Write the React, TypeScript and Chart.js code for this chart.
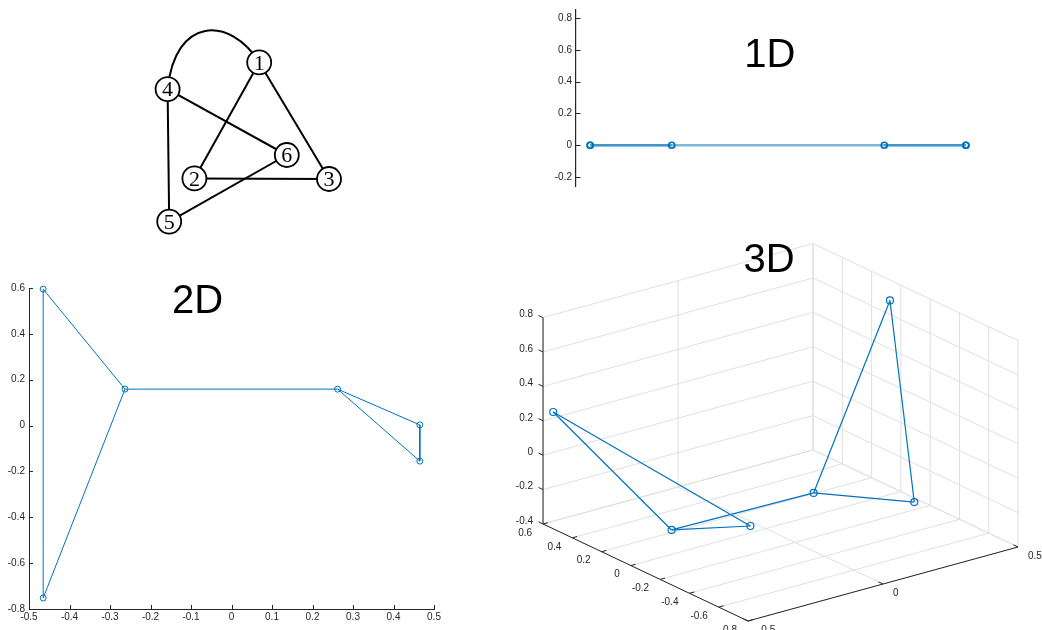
import React, { useEffect, useRef } from 'react';
import { Chart, registerables } from 'chart.js';

Chart.register(...registerables);

const MATLAB_BLUE = '#0072BD';
const AXIS_COLOR = '#262626';
const GRID_COLOR = '#dfdfdf';
const SANS = '"Liberation Sans", Arial, Helvetica, sans-serif';
const SERIF = '"Liberation Serif", "DejaVu Serif", serif';

// ---------------- Data ----------------
const nodeLabels = ['1', '2', '3', '4', '5', '6'];

// graph drawing layout (abstract layout units, y up)
const layoutX = [3.23, 1.61, 4.975, 0.94, 0.98, 3.92];
const layoutY = [4.69, 1.79, 1.775, 4.02, 0.71, 2.375];
const straightEdges = [[1, 2], [1, 3], [2, 3], [4, 5], [4, 6], [5, 6]];
const curvedEdge = [4, 1];
const curveControlX = [1.125, 2.5];
const curveControlY = [5.85, 5.85];
const allEdges = [...straightEdges, curvedEdge];

// 1D embedding
const embed1X = [0.263, 0.465, 0.465, -0.263, -0.465, -0.465];
const embed1Y = [0, 0, 0, 0, 0, 0];
const yTicks1D = [-0.2, 0, 0.2, 0.4, 0.6, 0.8];

// 2D embedding
const embed2X = [0.262, 0.465, 0.465, -0.263, -0.465, -0.465];
const embed2Y = [0.159, 0.003, -0.155, 0.159, -0.752, 0.595];
const xTicks2D = [-0.5, -0.4, -0.3, -0.2, -0.1, 0, 0.1, 0.2, 0.3, 0.4, 0.5];
const yTicks2D = [-0.8, -0.6, -0.4, -0.2, 0, 0.2, 0.4, 0.6];

// 3D embedding
const embed3X = [0.263, 0.465, 0.465, -0.263, -0.465, -0.465];
const embed3Y = [0.159, 0.01, -0.156, 0.159, -0.752, 0.595];
const embed3Z = [-0.37, 0.722, -0.383, -0.359, 0.118, 0.238];
const xTicks3D = [-0.5, 0, 0.5];
const yTicks3D = [-0.8, -0.6, -0.4, -0.2, 0, 0.2, 0.4, 0.6];
const zTicks3D = [-0.4, -0.2, 0, 0.2, 0.4, 0.6, 0.8];
const xRange3D = [-0.5, 0.5];
const yRange3D = [-0.8, 0.6];
const zRange3D = [-0.4, 0.8];

// ---------------- view (orthographic projection of the 3D box) ----------------
const VIEW_EX = [270, 74];
const VIEW_EY = [-146.4, 69.3];
const VIEW_EZ = 172;

function project(x: number, y: number, z: number) {
  const dx = x - xRange3D[0];
  const dy = y - yRange3D[0];
  const dz = z - zRange3D[0];
  return {
    x: dx * VIEW_EX[0] + dy * VIEW_EY[0],
    y: dx * VIEW_EX[1] + dy * VIEW_EY[1] + dz * VIEW_EZ,
  };
}

const fmt = (v: number) => String(Number(Number(v).toFixed(2)));

function nodePoints(xs: number[], ys: number[]) {
  return xs.map((x, i) => ({ x, y: ys[i] }));
}

function edgeDatasets(pts: { x: number; y: number }[], edges: number[][], color: string, width: number) {
  return edges.map(([a, b]) => ({
    showLine: true,
    data: [pts[a - 1], pts[b - 1]],
    borderColor: color,
    borderWidth: width,
    pointRadius: 0,
    pointHoverRadius: 0,
    order: 1,
    clip: false as any,
  }));
}

// ---------------- plugins ----------------
const inwardTicks = {
  id: 'inwardTicks',
  afterDraw(chart: any, _args: any, opts: any) {
    if (!opts || !opts.axes) return;
    const ctx = chart.ctx;
    ctx.save();
    ctx.strokeStyle = AXIS_COLOR;
    ctx.lineWidth = 1;
    for (const id of opts.axes) {
      const s = chart.scales[id];
      for (const t of s.ticks) {
        const p = Math.round(s.getPixelForValue(t.value)) + 0.5;
        ctx.beginPath();
        if (s.isHorizontal()) {
          ctx.moveTo(p, s.top);
          ctx.lineTo(p, s.top - opts.len);
        } else {
          ctx.moveTo(s.right, p);
          ctx.lineTo(s.right + opts.len, p);
        }
        ctx.stroke();
      }
    }
    ctx.restore();
  },
};

const panelTitle = {
  id: 'panelTitle',
  afterDraw(chart: any, _args: any, opts: any) {
    if (!opts || !opts.text) return;
    const ctx = chart.ctx;
    const px = chart.scales.x.getPixelForValue(opts.x);
    const py = chart.scales.y.getPixelForValue(opts.y);
    ctx.save();
    ctx.font = `${opts.size}px ${SANS}`;
    ctx.fillStyle = '#000';
    ctx.textAlign = 'center';
    ctx.textBaseline = 'alphabetic';
    ctx.fillText(opts.text, px, py + opts.size * 0.358);
    ctx.restore();
  },
};

const graphDecor = {
  id: 'graphDecor',
  beforeDatasetsDraw(chart: any) {
    const { ctx } = chart;
    const sx = chart.scales.x;
    const sy = chart.scales.y;
    const [a, b] = curvedEdge;
    ctx.save();
    ctx.strokeStyle = '#000';
    ctx.lineWidth = 2;
    ctx.beginPath();
    ctx.moveTo(sx.getPixelForValue(layoutX[a - 1]), sy.getPixelForValue(layoutY[a - 1]));
    ctx.bezierCurveTo(
      sx.getPixelForValue(curveControlX[0]), sy.getPixelForValue(curveControlY[0]),
      sx.getPixelForValue(curveControlX[1]), sy.getPixelForValue(curveControlY[1]),
      sx.getPixelForValue(layoutX[b - 1]), sy.getPixelForValue(layoutY[b - 1])
    );
    ctx.stroke();
    ctx.restore();
  },
  afterDatasetsDraw(chart: any) {
    const { ctx } = chart;
    const sx = chart.scales.x;
    const sy = chart.scales.y;
    const size = 22;
    ctx.save();
    ctx.font = `${size}px ${SERIF}`;
    ctx.fillStyle = '#000';
    ctx.textAlign = 'center';
    ctx.textBaseline = 'alphabetic';
    nodeLabels.forEach((lab, i) => {
      ctx.fillText(lab, sx.getPixelForValue(layoutX[i]), sy.getPixelForValue(layoutY[i]) + size * 0.33);
    });
    ctx.restore();
  },
};

const box3d = {
  id: 'box3d',
  beforeDatasetsDraw(chart: any) {
    const { ctx } = chart;
    const sx = chart.scales.x;
    const sy = chart.scales.y;
    const P = (x: number, y: number, z: number) => {
      const q = project(x, y, z);
      return [sx.getPixelForValue(q.x), sy.getPixelForValue(q.y)];
    };
    const line = (a: number[], b: number[]) => {
      ctx.beginPath();
      ctx.moveTo(a[0], a[1]);
      ctx.lineTo(b[0], b[1]);
      ctx.stroke();
    };
    const [x0, x1] = xRange3D;
    const [y0, y1] = yRange3D;
    const [z0, z1] = zRange3D;
    ctx.save();
    ctx.lineWidth = 1;
    ctx.strokeStyle = GRID_COLOR;
    // floor
    for (const yv of yTicks3D) line(P(x0, yv, z0), P(x1, yv, z0));
    for (const xv of xTicks3D) line(P(xv, y0, z0), P(xv, y1, z0));
    // back wall y = y1
    for (const xv of xTicks3D) line(P(xv, y1, z0), P(xv, y1, z1));
    for (const zv of zTicks3D) line(P(x0, y1, zv), P(x1, y1, zv));
    // back wall x = x1
    for (const yv of yTicks3D) line(P(x1, yv, z0), P(x1, yv, z1));
    for (const zv of zTicks3D) line(P(x1, y0, zv), P(x1, y1, zv));

    // axes
    ctx.strokeStyle = AXIS_COLOR;
    line(P(x0, y1, z0), P(x0, y1, z1));
    line(P(x0, y0, z0), P(x0, y1, z0));
    line(P(x0, y0, z0), P(x1, y0, z0));

    const unit = (a: number[], b: number[]) => {
      const dx = b[0] - a[0];
      const dy = b[1] - a[1];
      const L = Math.hypot(dx, dy);
      return [dx / L, dy / L];
    };
    const dirX = unit(P(x0, y0, z0), P(x1, y0, z0));
    const dirY = unit(P(x0, y0, z0), P(x0, y1, z0));
    const TL = 5;
    ctx.fillStyle = AXIS_COLOR;
    ctx.font = `10px ${SANS}`;
    ctx.textBaseline = 'middle';

    // z axis
    ctx.textAlign = 'right';
    for (const zv of zTicks3D) {
      const p = P(x0, y1, zv);
      line(p, [p[0] + dirY[0] * TL, p[1] + dirY[1] * TL]);
      ctx.fillText(fmt(zv), p[0] - 10, p[1] - 3);
    }
    // y axis (front-left edge)
    for (const yv of yTicks3D) {
      const p = P(x0, yv, z0);
      line(p, [p[0] + dirX[0] * TL, p[1] + dirX[1] * TL]);
      ctx.fillText(fmt(yv), p[0] - 11, p[1] + 9);
    }
    // x axis (front-right edge)
    ctx.textAlign = 'left';
    for (const xv of xTicks3D) {
      const p = P(xv, y0, z0);
      line(p, [p[0] + dirY[0] * TL, p[1] + dirY[1] * TL]);
      ctx.fillText(fmt(xv), p[0] + 10, p[1] + 9);
    }
    ctx.restore();
  },
};

const basePlugins = { legend: { display: false }, tooltip: { enabled: false } };

function tickOpts() {
  return {
    font: { family: SANS, size: 10 },
    color: AXIS_COLOR,
    autoSkip: false,
    maxRotation: 0,
    callback: (v: any) => fmt(Number(v)),
  };
}

// ---------------- configs ----------------
function graphConfig(): any {
  const pts = nodePoints(layoutX, layoutY);
  return {
    type: 'scatter',
    data: {
      datasets: [
        {
          data: pts,
          pointRadius: 12,
          pointHoverRadius: 12,
          pointBorderWidth: 1.8,
          pointBorderColor: '#000',
          pointBackgroundColor: '#fff',
          order: 0,
          clip: false,
        },
        ...edgeDatasets(pts, straightEdges, '#000', 2),
      ],
    },
    options: {
      responsive: false,
      animation: false,
      events: [],
      layout: { padding: 0, autoPadding: false },
      scales: {
        x: { type: 'linear', display: false, min: 0, max: 6 },
        y: { type: 'linear', display: false, min: 0, max: 6.25 },
      },
      plugins: { ...basePlugins },
    },
    plugins: [graphDecor],
  };
}

function oneDConfig(): any {
  const pts = nodePoints(embed1X, embed1Y);
  return {
    type: 'scatter',
    data: {
      datasets: [
        {
          data: pts,
          pointRadius: 3,
          pointHoverRadius: 3,
          pointBorderWidth: 1.7,
          pointBorderColor: MATLAB_BLUE,
          pointBackgroundColor: 'rgba(0,0,0,0)',
          order: 0,
          clip: false,
        },
        ...edgeDatasets(pts, allEdges, 'rgba(0,114,189,0.5)', 2.6),
      ],
    },
    options: {
      responsive: false,
      animation: false,
      events: [],
      layout: { padding: { left: 0, right: 62, top: 9, bottom: 13.4 }, autoPadding: false },
      scales: {
        x: { type: 'linear', display: false, min: -0.5, max: 0.5 },
        y: {
          type: 'linear',
          min: -0.26,
          max: 0.85,
          afterBuildTicks: (s: any) => { s.ticks = yTicks1D.map((v) => ({ value: v })); },
          afterFit: (s: any) => { s.width = 56; },
          grid: { display: false, drawTicks: false },
          border: { display: true, color: AXIS_COLOR, width: 1.2 },
          ticks: { ...tickOpts(), padding: 4 },
        },
      },
      plugins: {
        ...basePlugins,
        inwardTicks: { axes: ['y'], len: 4.5 },
        panelTitle: { text: '1D', x: -0.02, y: 0.581, size: 40 },
      },
    },
    plugins: [inwardTicks, panelTitle],
  };
}

function twoDConfig(): any {
  const pts = nodePoints(embed2X, embed2Y);
  return {
    type: 'scatter',
    data: {
      datasets: [
        {
          data: pts,
          pointRadius: 3,
          pointHoverRadius: 3,
          pointBorderWidth: 1,
          pointBorderColor: MATLAB_BLUE,
          pointBackgroundColor: 'rgba(0,0,0,0)',
          order: 0,
          clip: false,
        },
        ...edgeDatasets(pts, allEdges, MATLAB_BLUE, 1),
      ],
    },
    options: {
      responsive: false,
      animation: false,
      events: [],
      layout: { padding: { left: 0, right: 16, top: 18, bottom: 0 }, autoPadding: false },
      scales: {
        x: {
          type: 'linear',
          min: -0.5,
          max: 0.5,
          afterBuildTicks: (s: any) => { s.ticks = xTicks2D.map((v) => ({ value: v })); },
          afterFit: (s: any) => { s.height = 21; },
          grid: { display: false, drawTicks: false },
          border: { display: true, color: AXIS_COLOR, width: 1 },
          ticks: { ...tickOpts(), padding: 2 },
        },
        y: {
          type: 'linear',
          min: -0.8,
          max: 0.6,
          afterBuildTicks: (s: any) => { s.ticks = yTicks2D.map((v) => ({ value: v })); },
          afterFit: (s: any) => { s.width = 29; },
          grid: { display: false, drawTicks: false },
          border: { display: true, color: AXIS_COLOR, width: 1 },
          ticks: { ...tickOpts(), padding: 4 },
        },
      },
      plugins: {
        ...basePlugins,
        inwardTicks: { axes: ['x', 'y'], len: 4 },
        panelTitle: { text: '2D', x: -0.084, y: 0.552, size: 40 },
      },
    },
    plugins: [inwardTicks, panelTitle],
  };
}

function threeDConfig(): any {
  const pts = embed3X.map((x, i) => project(x, embed3Y[i], embed3Z[i]));
  return {
    type: 'scatter',
    data: {
      datasets: [
        {
          data: pts,
          pointRadius: 3.5,
          pointHoverRadius: 3.5,
          pointBorderWidth: 1.2,
          pointBorderColor: MATLAB_BLUE,
          pointBackgroundColor: 'rgba(0,0,0,0)',
          order: 0,
          clip: false,
        },
        ...edgeDatasets(pts, allEdges, MATLAB_BLUE, 1.2),
      ],
    },
    options: {
      responsive: false,
      animation: false,
      events: [],
      layout: { padding: 0, autoPadding: false },
      scales: {
        x: { type: 'linear', display: false, min: -258, max: 294 },
        y: { type: 'linear', display: false, min: -9, max: 391 },
      },
      plugins: {
        ...basePlugins,
        panelTitle: { text: '3D', x: 21, y: 363, size: 40 },
      },
    },
    plugins: [box3d, panelTitle],
  };
}

// ---------------- components ----------------
function ChartBox(props: { left: number; top: number; width: number; height: number; make: () => any }) {
  const { left, top, width, height, make } = props;
  const ref = useRef<HTMLCanvasElement | null>(null);
  useEffect(() => {
    if (!ref.current) return;
    const chart = new Chart(ref.current, make());
    return () => chart.destroy();
  }, []);
  return (
    <canvas
      ref={ref}
      width={width}
      height={height}
      style={{ position: 'absolute', left, top, width, height }}
    />
  );
}

export default function App() {
  return (
    <div
      style={{
        position: 'fixed',
        left: 0,
        top: 0,
        width: 1042,
        height: 630,
        background: '#fff',
        overflow: 'hidden',
      }}
    >
      <ChartBox left={130} top={0} width={240} height={250} make={graphConfig} />
      <ChartBox left={520} top={0} width={522} height={200} make={oneDConfig} />
      <ChartBox left={0} top={270} width={450} height={360} make={twoDConfig} />
      <ChartBox left={490} top={230} width={552} height={400} make={threeDConfig} />
    </div>
  );
}
